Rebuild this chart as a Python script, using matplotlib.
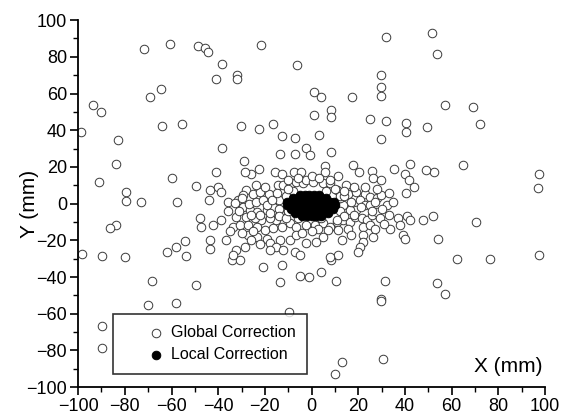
import matplotlib
matplotlib.use("Agg")
import matplotlib.pyplot as plt
from matplotlib.ticker import MultipleLocator

plt.rcParams['font.family'] = ['Liberation Sans', 'DejaVu Sans']

# Global Correction (open circles)
global_x = [
    -71.9, -60.7, -48.6, -45.7, -44.2, -38.5, -40.8, -64.3, -69.4, -93.6, -90.3, -63.9, -55.5, -98.8, -83.0,
    -21.8, -31.9, -31.9, -6.3, 1.2, 3.9, 17.1, 1.1, 8.4, 8.4, 24.9, -30.2, -22.6, -16.5, -12.5, -7.3, 3.1,
    31.9, 51.6, 53.7, 29.5, 29.5, 29.5, 57.3, 69.2, 31.8, 40.2, 40.5, 49.6, 72.2, 29.9,
    -83.6, -91.0, -59.9, -79.3, -79.7, -73.0, -57.7, -83.6, -86.3, -54.3, -58.2, -61.9, -53.6, -98.5, -89.6, -80.1,
    -68.3, -49.7, -57.9, -70.1, -89.6, -89.6,
    -34.3, -30.7, 8.5, -20.8, -12.9, -13.6, -4.8, -1.1, 4.2, 10.4, -9.8, 13.1, 10.1,
    62.3, 76.6, 97.3, 31.3, 53.9, 57.3, 29.6, 29.6, 30.4,
    52.6, 64.9, 97.3, 97.0, 51.9, 70.4, 54.2,
    -38.2, -13.6, -7.2, -2.2, -0.8, 8.5, -28.9, -25.8, -28.6, -22.6, -41.1, -15.8, -12.5, -7.5, -4.6,
    5.7, 5.7, 11.4, 17.8, 20.4, 25.7, 26.1, 29.5, 35.2, 42.1, 39.9, 41.8, 48.9, 43.9, 40.4,
    -49.6, -43.6, -40.1, -38.6, -43.9, -35.8, -27.9, -29.3, -31.5, -25.1, -22.2, -18.2,
    -14.3, -12.2, -9.3, -6.5, -3.6, -2.2, 0.7, 4.9, 7.8, 10.7, 14.9, 15.7, 19.2, 22.8, 24.9, 27.8, 29.9,
    32.1, 20.7, 22.8, 19.2, 16.4, 13.5, 12.1,
    -32.9, -29.3, -26.5, -23.6, -19.3, -16.5, -13.6, -15.1, -17.9, -21.5, -24.3, -27.9, -32.2,
    -33.6, -30.8, -27.2, -23.6, -20.1, -16.5, -12.9, -9.3, -6.5, -2.2, 1.4, 4.9, 7.8, 10.7, 13.5, 16.4,
    18.5, 21.4, 23.5, 25.7, 27.8, 29.2, 22.1, 24.9,
    -47.9, -47.2, -42.2, -36.5, -43.6, -43.6,
    33.5, 37.1, 40.7, 42.1, 47.8, 37.8, 39.2, 39.9,
    -27.2, -23.6, -19.3, -17.9, -13.6, -9.3, -6.5, -2.2, -15.1, -12.2, -7.2, -5.1, -17.9, -28.6, -32.2, -33.6,
    11.4, 15.7, 7.1, 2.8, 22.1, 26.4, 22.1, 20.7, 19.9, 11.4, 7.8,
    -14.0, -14.0, 12.0, 12.0, -8.0, 6.0, -6.0, 4.0,
    -30, -27, -24, -21, -19, -17, -15, -20, -24, -31, -26, -22, -18, -14, -11, -10, -11, -10,
    -36, -39, -35, -30, -25, -22, -26,
    14, 17, 21, 25, 27, 30, 33, 26, 18, 14, 11, 10, 14, 18, 23, 28, 33, 35, 31, 27, 17, 13, 5, 0, -4, 2,
    -6, 0, 3, 8, -10,
]
global_y = [
    84.0, 86.9, 85.8, 84.6, 82.4, 75.9, 68.1, 62.4, 58.2, 53.7, 50.0, 42.4, 43.3, 39.1, 34.5,
    86.2, 70.0, 67.8, 75.6, 60.9, 58.2, 58.2, 48.2, 51.0, 47.3, 45.9, 42.4, 40.8, 43.3, 36.8, 35.5, 37.5,
    90.7, 93.1, 81.6, 69.9, 63.3, 58.4, 54.0, 52.4, 45.0, 43.7, 39.1, 41.7, 43.3, 35.0,
    21.5, 11.6, 14.1, 6.4, 1.7, 0.7, 0.7, -11.7, -13.4, -20.1, -23.9, -26.6, -28.6, -27.5, -28.6, -29.3,
    -42.4, -44.2, -54.1, -55.5, -66.6, -78.4,
    -30.8, -30.8, -30.8, -34.8, -33.5, -42.6, -39.5, -39.9, -37.5, -42.4, -59.3, -86.5, -92.9,
    -29.9, -30.4, -27.9, -42.2, -43.0, -49.0, -51.7, -53.0, -84.9,
    17.3, 20.8, 15.9, 8.6, -6.6, -9.9, -19.2,
    30.1, 26.8, 26.8, 30.1, 26.4, 28.2, 23.3, 15.9, 17.3, 19.1, 17.3, 17.3, 15.9, 17.3, 17.3,
    20.4, 17.0, 15.0, 21.0, 17.0, 17.9, 14.2, 13.1, 19.1, 21.5, 15.9, 13.1, 18.2, 9.1, 5.9,
    9.5, 7.3, 9.2, 6.4, 2.2, 1.0, 7.3, 4.6, 1.9, 5.5, 6.4, 5.5,
    10.1, 10.1, 10.1, 11.9, 11.0, 12.8, 11.9, 11.0, 11.0, 7.3, 10.1, 5.5, 6.4, 5.5, 3.7, 2.8, 4.6,
    -0.9, 1.9, -0.9, -3.6, -3.6, -0.9, 2.8,
    0.1, -1.8, -3.6, -4.5, -3.6, -1.8, -5.4, -9.0, -8.1, -9.0, -8.1, -7.2, -7.2,
    -12.7, -11.7, -11.7, -13.0, -14.5, -13.5, -13.0, -10.8, -12.7, -11.7, -11.7, -10.8, -12.7, -9.9, -9.0, -9.9,
    -7.2, -8.1, -9.0, -6.3, -4.5, -8.1, -12.7, -11.7,
    -7.6, -13.0, -11.7, -19.9, -19.9, -24.5,
    -13.6, -8.1, -6.8, -9.0, -9.0, -11.7, -17.2, -19.5,
    -17.2, -18.1, -19.0, -21.7, -19.9, -19.9, -17.2, -21.7, -23.6, -25.4, -26.3, -28.1, -25.4, -23.6, -25.4, -28.1,
    -14.5, -13.6, -14.5, -13.6, -17.2, -18.1, -20.8, -23.6, -26.3, -28.1, -29.0,
    2.0, -3.0, -4.0, 4.0, 7.0, 7.0, -8.0, -8.0,
    3, 0, 1, 2, -1, 2, 6, 9, 10, -4, -6, -6, -5, -7, -8, -4, 4, 8,
    -4, -9, -15, -16, -15, -22, -20,
    4, 1, -2, -1, 1, -3, -6, -4, -6, -7, -9, 8, 7, 9, 9, 8, 6, 1, -11, -14, -17, -20, -18, -15, -16, -21,
    14, 15, 14, 13, 13,
]

# Local Correction (filled circles)
local_x = [
    -5, -3, -1, 1, 3,
    -8, -6, -4, -2, 0, 2, 4, 6,
    -10.5, -8, -6, -4, -2, 0, 2, 4, 6, 8, 9.5,
    -10.5, -8, -6, -4, -2, 0, 2, 4, 6, 8, 10,
    -9, -7, -5, -3, -1, 1, 3, 5, 7, 9,
    -7, -5, -3, -1, 1, 3, 5, 7,
    -4, -2, 0, 2, 4,
]
local_y = [
    4.8, 4.8, 4.8, 4.8, 4.8,
    3, 3, 3, 3, 3, 3, 3, 3,
    1, 1, 1, 1, 1, 1, 1, 1, 1, 1, 1,
    -1, -1, -1, -1, -1, -1, -1, -1, -1, -1, -1,
    -3, -3, -3, -3, -3, -3, -3, -3, -3, -3,
    -5, -5, -5, -5, -5, -5, -5, -5,
    -6.8, -6.8, -6.8, -6.8, -6.8,
]

fig = plt.figure(figsize=(5.62, 4.19), dpi=100)
ax = fig.add_axes([0.139, 0.076, 0.831, 0.876])

ax.scatter(global_x, global_y, s=38, facecolors='white', edgecolors='#3a3a3a',
           linewidths=0.7, label='Global Correction', zorder=2)
ax.scatter(local_x, local_y, s=38, facecolors='black', edgecolors='black',
           linewidths=0.7, label='Local Correction', zorder=3)

ax.set_xlim(-100, 100)
ax.set_ylim(-100, 100)
ax.xaxis.set_major_locator(MultipleLocator(20))
ax.yaxis.set_major_locator(MultipleLocator(20))
ax.xaxis.set_minor_locator(MultipleLocator(10))
ax.yaxis.set_minor_locator(MultipleLocator(10))
for s in ['top', 'right']:
    ax.spines[s].set_visible(False)
for s in ['left', 'bottom']:
    ax.spines[s].set_linewidth(1.3)
ax.tick_params(which='major', direction='out', length=6, width=1.2, labelsize=13, pad=2)
ax.tick_params(which='minor', direction='out', length=3.5, width=1.0)

ax.set_ylabel('Y (mm)', fontsize=15)
ax.yaxis.set_label_coords(-0.083, 0.5)
ax.text(0.995, 0.04, 'X (mm)', transform=ax.transAxes, ha='right', va='baseline', fontsize=15)

leg = ax.legend(loc='lower left', bbox_to_anchor=(0.074, 0.037), fontsize=11.5,
                frameon=True, fancybox=False, edgecolor='black', borderpad=0.7,
                handlelength=4.0, handletextpad=-1.06, labelspacing=0.45,
                borderaxespad=0, scatterpoints=1)
leg.get_frame().set_linewidth(1.2)

fig.savefig('out.png', dpi=100)
